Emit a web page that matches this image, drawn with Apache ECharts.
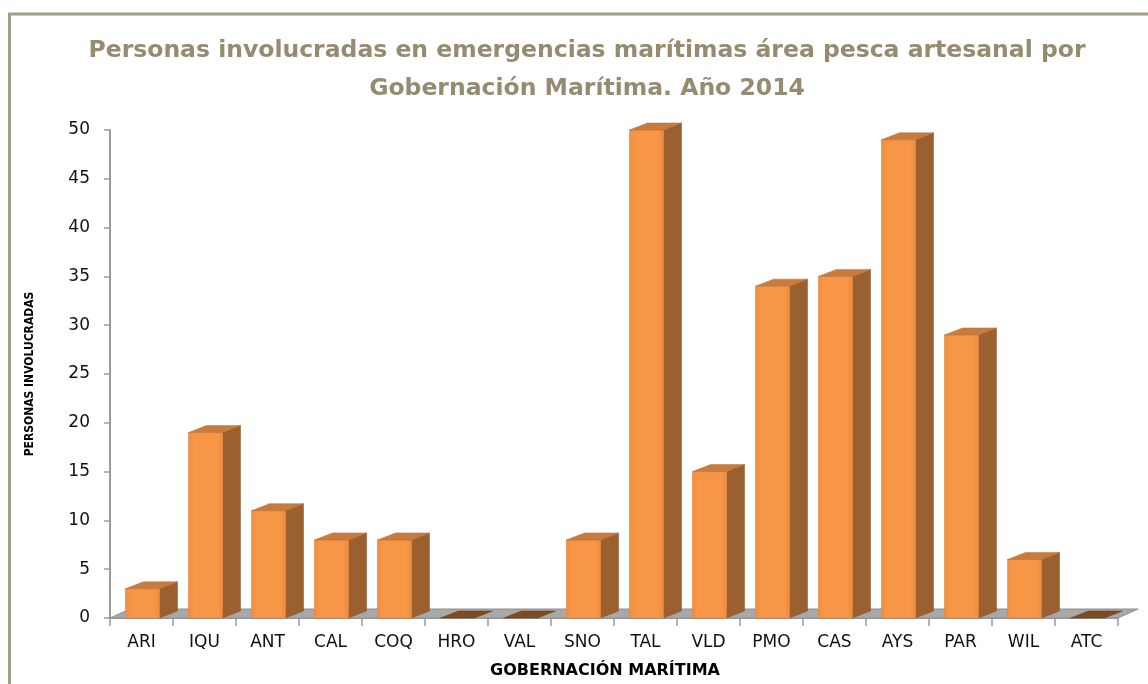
<!DOCTYPE html>
<html>
<head>
<meta charset="utf-8">
<script src="https://cdn.jsdelivr.net/npm/echarts@6/dist/echarts.min.js"></script>
<style>
html,body{margin:0;padding:0;background:#fff;}
#chart{width:1148px;height:684px;}
</style>
</head>
<body>
<div id="chart"></div>
<script>
// ---- data ----
const categories = ['ARI','IQU','ANT','CAL','COQ','HRO','VAL','SNO','TAL','VLD','PMO','CAS','AYS','PAR','WIL','ATC'];
const personas = [3, 19, 11, 8, 8, 0, 0, 8, 50, 15, 34, 35, 49, 29, 6, 0];
const yTicks = [0, 5, 10, 15, 20, 25, 30, 35, 40, 45, 50];
const titleText = 'Personas involucradas en emergencias marítimas área pesca artesanal por\nGobernación Marítima. Año 2014';
const yName = 'PERSONAS INVOLUCRADAS';
const xName = 'GOBERNACIÓN MARÍTIMA';

// ---- styling (3D look) ----
const DX = 18, DY = 7;          // bar depth offset
const FDX = 20, FDY = 9;        // floor depth offset
const FRONT = '#f79646', SIDE = '#9a602f', TOP = '#c97b3d', TOP0 = '#7e4a1f';

const chart = echarts.init(document.getElementById('chart'));

function barItem(params, api) {
  const idx = api.value(0), val = api.value(1);
  const base = api.coord([idx, 0]);
  const top = api.coord([idx, val]);
  const band = api.size([1, 0])[0];
  const w = band * 0.54;
  const x0 = base[0] - w / 2 + 1, x1 = x0 + w;
  const y0 = base[1], yt = top[1];
  const children = [];
  if (val > 0) {
    children.push({
      type: 'polygon',
      shape: { points: [[x1, yt], [x1 + DX, yt - DY], [x1 + DX, y0 - DY], [x1, y0]] },
      style: { fill: SIDE, stroke: '#8a552a', lineWidth: 0.5 }
    });
    children.push({
      type: 'rect',
      shape: { x: x0, y: yt, width: w, height: y0 - yt },
      style: {
        fill: new echarts.graphic.LinearGradient(0, 0, 1, 0, [
          { offset: 0, color: '#f08c40' },
          { offset: 0.15, color: FRONT },
          { offset: 0.85, color: FRONT },
          { offset: 1, color: '#ee8a3e' }
        ]),
        stroke: '#e5843a', lineWidth: 0.6
      }
    });
  }
  children.push({
    type: 'polygon',
    shape: { points: [[x0, yt], [x1, yt], [x1 + DX, yt - DY], [x0 + DX, yt - DY]] },
    style: { fill: val > 0 ? TOP : TOP0, stroke: val > 0 ? '#b86e34' : '#6e4018', lineWidth: 0.5 }
  });
  return { type: 'group', children };
}

function floorItem(params, api) {
  const band = api.size([1, 0])[0];
  const a = api.coord([0, 0]);
  const b = api.coord([categories.length - 1, 0]);
  const xl = a[0] - band / 2, xr = b[0] + band / 2, y0 = a[1];
  return {
    type: 'group',
    children: [
      {
        type: 'polygon',
        shape: { points: [[xl, y0], [xr, y0], [xr + FDX, y0 - FDY], [xl + FDX, y0 - FDY]] },
        style: { fill: '#a8a8a8', stroke: '#8e8e8e', lineWidth: 1 }
      }
    ]
  };
}

const option = {
  backgroundColor: '#ffffff',
  animation: false,
  title: {
    text: titleText,
    left: 582,
    top: 27,
    textAlign: 'center',
    textStyle: {
      fontFamily: 'DejaVu Sans',
      fontWeight: 'bold',
      fontSize: 23.5,
      lineHeight: 38,
      color: '#958b70'
    }
  },
  graphic: [
    { type: 'line', shape: { x1: 8, y1: 14, x2: 1148, y2: 14 }, style: { stroke: '#a39d88', lineWidth: 3 }, z: 0 },
    { type: 'line', shape: { x1: 9.5, y1: 13, x2: 9.5, y2: 684 }, style: { stroke: '#a39d88', lineWidth: 3 }, z: 0 }
  ],
  grid: { left: 110, right: 30, top: 130, bottom: 66 },
  xAxis: {
    type: 'category',
    data: categories,
    name: xName,
    nameLocation: 'middle',
    nameGap: 45,
    nameTextStyle: { fontFamily: 'DejaVu Sans', fontWeight: 'bold', fontSize: 16, color: '#000', padding: [0, 18, 0, 0] },
    axisLine: { show: true, lineStyle: { color: '#9a9a9a', width: 1 } },
    axisTick: { show: true, length: 8, alignWithLabel: false, lineStyle: { color: '#9a9aa2', width: 1.5 } },
    axisLabel: { margin: 16, fontFamily: 'DejaVu Sans', fontSize: 17, color: '#111' },
    splitLine: { show: false }
  },
  yAxis: {
    type: 'value',
    min: yTicks[0],
    max: yTicks[yTicks.length - 1],
    interval: yTicks[1] - yTicks[0],
    name: yName,
    nameLocation: 'middle',
    nameGap: 74,
    nameTextStyle: { fontFamily: 'DejaVu Sans Condensed', fontWeight: 'bold', fontSize: 12, color: '#000' },
    axisLine: { show: true, lineStyle: { color: '#9a9aa2', width: 2 } },
    axisTick: { show: true, length: 6, lineStyle: { color: '#9a9aa2', width: 1.5 } },
    axisLabel: { margin: 20, fontFamily: 'DejaVu Sans', fontSize: 17, color: '#111' },
    splitLine: { show: false }
  },
  series: [
    {
      type: 'custom',
      name: 'floor',
      renderItem: floorItem,
      data: [[0, 0]],
      encode: { x: 0, y: 1 },
      z: 1,
      silent: true
    },
    {
      type: 'custom',
      name: 'Personas involucradas',
      renderItem: barItem,
      data: personas.map((v, i) => [i, v]),
      encode: { x: 0, y: 1 },
      z: 2
    }
  ]
};
chart.setOption(option);
</script>
</body>
</html>
